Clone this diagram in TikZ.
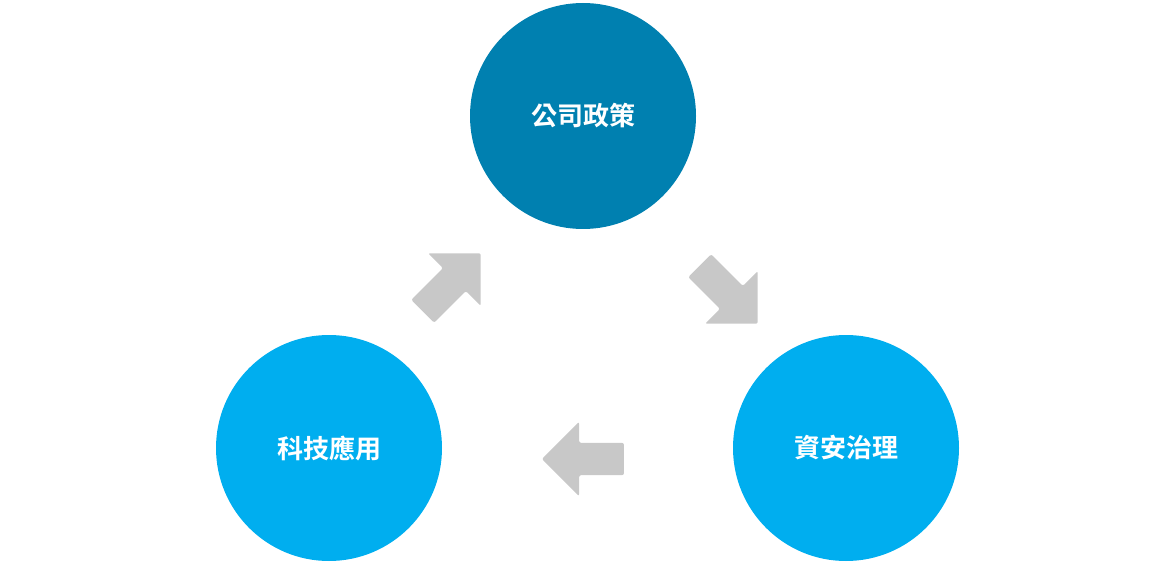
\documentclass[tikz,border=0pt]{standalone}
\usepackage{fontspec}
\usepackage{xcolor}
\usepackage{tikz}
\usetikzlibrary{shapes,arrows,positioning,calc}
\newfontfamily\cjk{Noto Sans CJK TC Bold}

\definecolor{policyblue}{HTML}{0080B0}
\definecolor{skyblue}{HTML}{00AEEF}
\definecolor{arrowgray}{HTML}{C8C8C8}

\begin{document}
\begin{tikzpicture}[
    x=1pt, y=-1pt,
    topic/.style={circle, fill=skyblue, minimum size=226pt, inner sep=0pt, text=white, font=\cjk\fontsize{26}{30}\selectfont},
    flow/.style={single arrow, fill=arrowgray, minimum height=82pt, inner xsep=0pt, inner ysep=16pt, single arrow head extend=21pt, single arrow tip angle=90, rounded corners=2pt}
]

\useasboundingbox (0,0) rectangle (1167,564);

% Topics
\node[topic, fill=policyblue] (policy) at (583,116) {公司政策};
\node[topic] (security) at (846,448) {資安治理};
\node[topic] (tech) at (329,448) {科技應用};

% Flow arrows
\node[flow, rotate=-45] (policy2security) at (723,289) {};
\node[flow, rotate=180] (security2tech) at (591,459) {};
\node[flow, rotate=45] (tech2policy) at (446,288) {};

\end{tikzpicture}
\end{document}
